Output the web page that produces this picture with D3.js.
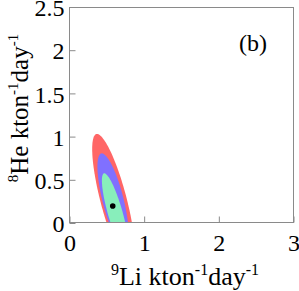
<!DOCTYPE html>
<html>
<head>
<meta charset="utf-8">
<script src="https://cdn.jsdelivr.net/npm/d3@7"></script>
<style>
  body { margin: 0; background: #fff; }
</style>
</head>
<body>
<svg width="299" height="291"></svg>
<script>
/*------------------------
  ------ VARIABLES -------
  ------------------------*/

// axes
var xTicks = [0, 1, 2, 3];
var xTickLabels = ["0", "1", "2", "3"];
var yTicks = [0, 0.5, 1, 1.5, 2, 2.5];
var yTickLabels = ["0", "0.5", "1", "1.5", "2", "2.5"];

// allowed regions (outer to inner): centre, half height,
// half width across x at the centre, and tilt dx/dy
var regionCx = [0.590, 0.583, 0.611];
var regionCy = [0.266, 0.266, 0.120];
var regionHalfH = [0.764, 0.540, 0.455];
var regionHalfW = [0.181, 0.145, 0.102];
var regionTilt = [-0.290, -0.278, -0.318];

// best fit point
var bestLi = 0.579;
var bestHe = 0.197;

// display settings
var serif = "'Liberation Serif', 'Times New Roman', Tinos, serif";
var colors = ["#ff6666", "#8070ff", "#88eebb"];
var frame = {left: 69.5, right: 293.5, top: 7, bottom: 223};

var svg = d3.select("svg");

var x = d3.scaleLinear().domain([0, 3]).range([frame.left, frame.right]);
var y = d3.scaleLinear().domain([0, 2.5]).range([frame.bottom, frame.top]);

/*------------------------
  ------- REGIONS --------
  ------------------------*/

svg.append("clipPath").attr("id", "plot-clip")
    .append("rect")
    .attr("x", frame.left).attr("y", frame.top)
    .attr("width", frame.right - frame.left)
    .attr("height", frame.bottom - frame.top);

function region_points(i) {
    var pts = [];
    for (var k = 0; k <= 120; k++) {
        var t = k / 120 * 2 * Math.PI;
        var yy = regionCy[i] + regionHalfH[i] * Math.sin(t);
        var xx = regionCx[i] + regionTilt[i] * (yy - regionCy[i]) + regionHalfW[i] * Math.cos(t);
        pts.push([x(xx), y(yy)]);
    }
    return pts;
}

var line = d3.line().curve(d3.curveLinearClosed);
var regions = svg.append("g").attr("clip-path", "url(#plot-clip)");

regions.selectAll("path")
    .data(d3.range(regionCx.length))
    .enter()
    .append("path")
    .attr("d", function(i) { return line(region_points(i)); })
    .attr("fill", function(i) { return colors[i]; });

regions.append("circle")
    .attr("cx", x(bestLi))
    .attr("cy", y(bestHe))
    .attr("r", 2.8)
    .attr("fill", "#000");

/*------------------------
  -------- FRAME ---------
  ------------------------*/

svg.append("rect")
    .attr("x", frame.left).attr("y", frame.top + 0.5)
    .attr("width", frame.right - frame.left)
    .attr("height", frame.bottom - frame.top - 1)
    .attr("fill", "none")
    .attr("stroke", "#8a8a8a")
    .attr("stroke-width", 1);

var xAxis = d3.axisBottom(x).tickValues(xTicks)
    .tickSize(-6).tickPadding(11)
    .tickFormat(function(d, i) { return xTickLabels[i]; });
var yAxis = d3.axisLeft(y).tickValues(yTicks)
    .tickSize(-6).tickPadding(5)
    .tickFormat(function(d, i) { return yTickLabels[i]; });

var gx = svg.append("g").attr("transform", "translate(0," + (frame.bottom - 0.5) + ")").call(xAxis);
var gy = svg.append("g").attr("transform", "translate(" + frame.left + ",0)").call(yAxis);

[gx, gy].forEach(function(g) {
    g.attr("font-family", serif).attr("font-size", 24);
    g.select(".domain").remove();
    g.selectAll(".tick line").attr("stroke", "#8a8a8a");
    g.selectAll(".tick text")
        .style("font-family", serif)
        .style("font-size", "24px")
        .attr("fill", "#000");
});
gx.selectAll(".tick text").attr("dy", "0.71em");
gy.selectAll(".tick text").attr("dy", "0.36em");

/*------------------------
  -------- LABELS --------
  ------------------------*/

function unit_label(t, nucleus, element, big, small) {
    t.append("tspan").attr("font-size", small).attr("dy", -10).text(nucleus);
    t.append("tspan").attr("font-size", big).attr("dy", 10).text(element + " kton");
    t.append("tspan").attr("font-size", small).attr("dy", -10).text("-1");
    t.append("tspan").attr("font-size", big).attr("dy", 10).text("day");
    t.append("tspan").attr("font-size", small).attr("dy", -10).text("-1");
}

var xt = svg.append("text")
    .style("font-family", serif)
    .attr("x", 185).attr("y", 285)
    .attr("text-anchor", "middle");
unit_label(xt, "9", "Li", 26, 16);

var yt = svg.append("text")
    .style("font-family", serif)
    .attr("transform", "translate(28,108) rotate(-90)")
    .attr("text-anchor", "middle");
unit_label(yt, "8", "He", 25, 15);

svg.append("text")
    .style("font-family", serif)
    .attr("x", 253).attr("y", 51)
    .attr("text-anchor", "middle")
    .attr("font-size", 24)
    .text("(b)");
</script>
</body>
</html>
